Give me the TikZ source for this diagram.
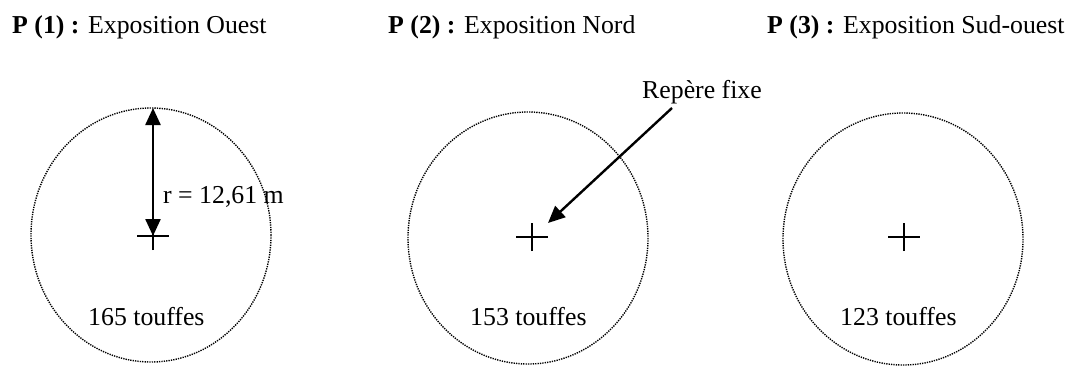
\documentclass[tikz,border=0pt]{standalone}
\usepackage{fontspec}
\setmainfont{Liberation Serif}
\usetikzlibrary{arrows.meta}
\tikzset{
  lbl/.style={inner sep=0pt, anchor=base west, font=\fontsize{25.8}{30}\selectfont},
  plot/.style={line width=1.4pt, dash pattern=on 1.3pt off 1.1pt},
  crossline/.style={line width=1.3pt},
  bigarrow/.style={line width=2.4pt, -{Triangle[width=15pt,length=17pt]}},
  dblarrow/.style={line width=2.4pt, {Triangle[width=15pt,length=17pt]}-{Triangle[width=15pt,length=17pt]}}
}
\begin{document}
\begin{tikzpicture}[x=1pt,y=-1pt]
\useasboundingbox (0,0) rectangle (1073,367);
% titles
\node[lbl] (t1) at (12,33) {\textbf{P (1) :} Exposition Ouest};
\node[lbl] (t2) at (388,33) {\textbf{P (2) :} Exposition Nord};
\node[lbl] (t3) at (767,33) {\textbf{P (3) :} Exposition Sud-ouest};
% plots
\coordinate (c1) at (151,235);
\coordinate (c2) at (528,238);
\coordinate (c3) at (903,239);
\draw[plot] (c1) ellipse [x radius=120, y radius=127];
\draw[plot] (c2) ellipse [x radius=120, y radius=126];
\draw[plot] (c3) ellipse [x radius=120, y radius=126];
% crosses
\coordinate (x1) at (153,236);
\coordinate (x2) at (532,237);
\coordinate (x3) at (904,237);
\foreach \p in {x1,x2,x3}{
  \draw[crossline] ([xshift=-16pt]\p) -- ([xshift=16pt]\p);
  \draw[crossline] ([yshift=-14pt]\p) -- ([yshift=14pt]\p);
}
% radius
\coordinate (rtop) at (153,108);
\draw[dblarrow] (rtop) -- (x1);
\node[lbl] (r) at (163,203) {r = 12,61 m};
% fixed mark
\node[lbl] (rep) at (642,98) {Repère fixe};
\coordinate (a0) at (672,108);
\coordinate (a1) at (548,223);
\draw[bigarrow] (a0) -- (a1);
% counts
\node[lbl] (n1) at (88,325) {165 touffes};
\node[lbl] (n2) at (470,325) {153 touffes};
\node[lbl] (n3) at (840,325) {123 touffes};
\end{tikzpicture}
\end{document}
